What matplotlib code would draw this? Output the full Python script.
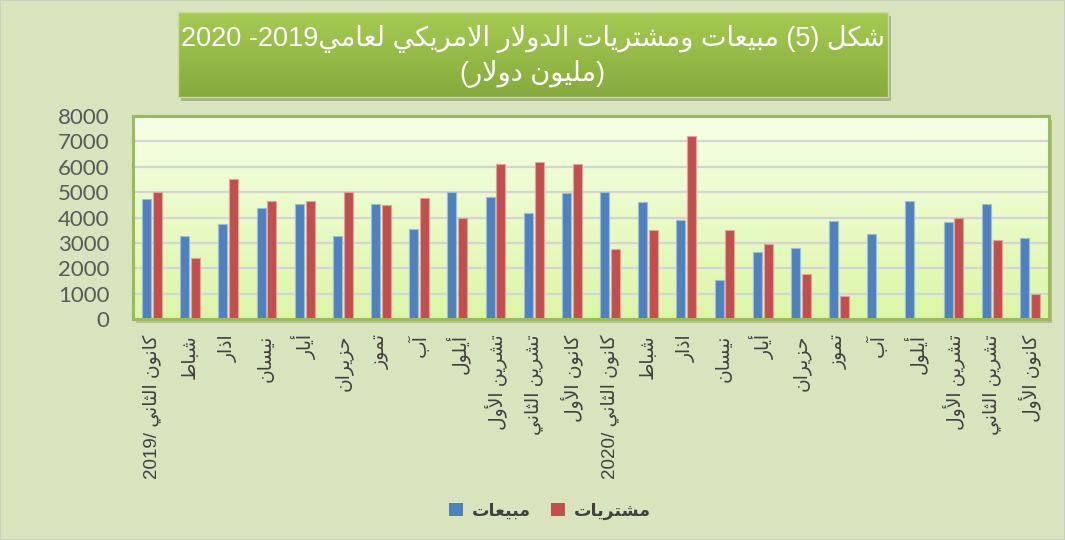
import numpy as np
import matplotlib
matplotlib.use("Agg")
import matplotlib.pyplot as plt
from matplotlib.patches import Rectangle, Patch
from matplotlib.colors import LinearSegmentedColormap

# ---- data (million dollars) ----
months = ["كانون الثاني", "شباط", "اذار", "نيسان", "أيار", "حزيران",
          "تموز", "آب", "أيلول", "تشرين الأول", "تشرين الثاني", "كانون الأول"]
years = ["2019", "2020"]
sales = [4720, 3290, 3730, 4380, 4550, 3290, 4530, 3530, 5010, 4820, 4190, 4970,
         5000, 4620, 3910, 1540, 2650, 2800, 3850, 3350, 4660, 3810, 4550, 3190]
purchases = [5000, 2390, 5500, 4650, 4660, 5000, 4490, 4750, 3990, 6090, 6190, 6090,
             2760, 3490, 7200, 3490, 2940, 1780, 890, 0, 0, 3990, 3100, 1000]
title_words = "شكل (5) مبيعات ومشتريات الدولار الامريكي لعامي"
title_years = "2020 -2019"
title_unit = "(مليون دولار)"
legend_sales = "مبيعات"
legend_purchases = "مشتريات"

# ---- minimal arabic shaping (matplotlib has no bidi / joining) ----
DUAL = {'ب': 0xFE8F, 'ت': 0xFE95, 'ث': 0xFE99, 'ج': 0xFE9D, 'ح': 0xFEA1, 'خ': 0xFEA5,
        'س': 0xFEB1, 'ش': 0xFEB5, 'ص': 0xFEB9, 'ض': 0xFEBD, 'ط': 0xFEC1, 'ظ': 0xFEC5,
        'ع': 0xFEC9, 'غ': 0xFECD, 'ف': 0xFED1, 'ق': 0xFED5, 'ك': 0xFED9, 'ل': 0xFEDD,
        'م': 0xFEE1, 'ن': 0xFEE5, 'ه': 0xFEE9, 'ي': 0xFEF1}
RIGHT = {'آ': 0xFE81, 'أ': 0xFE83, 'إ': 0xFE87, 'ا': 0xFE8D, 'ة': 0xFE93, 'د': 0xFEA9,
         'ذ': 0xFEAB, 'ر': 0xFEAD, 'ز': 0xFEAF, 'و': 0xFEED, 'ى': 0xFEEF}
LAM_ALEF = {'آ': 0xFEF5, 'أ': 0xFEF7, 'إ': 0xFEF9, 'ا': 0xFEFB}


def shape(text):
    toks = []
    i = 0
    while i < len(text):
        c = text[i]
        if c == 'ل' and i + 1 < len(text) and text[i + 1] in LAM_ALEF:
            toks.append(('LA', text[i + 1]))
            i += 2
        else:
            toks.append(('C', c))
            i += 1

    def is_ar(t):
        return t[0] == 'LA' or t[1] in DUAL or t[1] in RIGHT

    def joins_next(t):
        return t[0] == 'C' and t[1] in DUAL

    out = []
    for k, t in enumerate(toks):
        if not is_ar(t):
            out.append(t[1])
            continue
        prev_j = k > 0 and joins_next(toks[k - 1])
        next_j = joins_next(t) and k + 1 < len(toks) and is_ar(toks[k + 1])
        if t[0] == 'LA':
            out.append(chr(LAM_ALEF[t[1]] + (1 if prev_j else 0)))
        elif t[1] in DUAL:
            idx = 3 if (prev_j and next_j) else 1 if prev_j else 2 if next_j else 0
            out.append(chr(DUAL[t[1]] + idx))
        else:
            out.append(chr(RIGHT[t[1]] + (1 if prev_j else 0)))
    return out


def rtl(text):
    mirror = {'(': ')', ')': '('}
    return ''.join(mirror.get(g, g) for g in shape(text)[::-1])


labels = []
for y in years:
    for j, m in enumerate(months):
        lab = rtl(m)
        if j == 0:
            lab = y + "/ " + lab
        labels.append(lab)

FONT = ['Liberation Sans', 'DejaVu Sans']
BG = '#d7e4bd'

fig = plt.figure(figsize=(10.65, 5.4), dpi=100, facecolor=BG)
W, H = 1065, 540

# plot area (pixel box 133..1049 x 116..319)
L, R, T, B = 133, 1049, 116, 319
fig.patches.append(Rectangle(((L + 3) / W, 1 - (B + 4) / H), (R - L) / W, (B - T) / H,
                             transform=fig.transFigure, facecolor='#b3bf98',
                             edgecolor='none', zorder=-5))
ax = fig.add_axes([L / W, 1 - B / H, (R - L) / W, (B - T) / H])
ax.set_facecolor('none')
cmap = LinearSegmentedColormap.from_list('pa', ['#dcf6a6', '#f6ffe8'])
ax.imshow(np.linspace(0, 1, 256).reshape(-1, 1), cmap=cmap, origin='lower',
          extent=[0, 1, 0, 1], transform=ax.transAxes, aspect='auto', zorder=0)

x = np.arange(len(sales))
ax.bar(x - 0.145, sales, width=0.235, color='#4f81bd', edgecolor='#9dbce0',
       linewidth=0.8, zorder=3)
ax.bar(x + 0.14, purchases, width=0.235, color='#c0504d', edgecolor='#e3a19f',
       linewidth=0.8, zorder=3)

ax.set_xlim(-0.5, len(sales) - 0.5)
ax.set_ylim(0, 8000)
ax.set_yticks(range(0, 8001, 1000))
ax.grid(axis='y', color='#d4d4d4', linewidth=1.6, zorder=1)
ax.set_axisbelow(True)
ax.tick_params(axis='y', length=0, pad=17, labelsize=16, labelcolor='#595959')
for t in ax.get_yticklabels():
    t.set_family(['Lato', 'DejaVu Sans'])
ax.set_xticks(x)
ax.set_xticklabels(labels, rotation=90, family=FONT, fontsize=13.5, color='#404040')
ax.tick_params(axis='x', length=0, pad=11)
for s in ax.spines.values():
    s.set_color('#9bbb59')
    s.set_linewidth(2.2)
    s.set_zorder(5)

# title box
tl, tr, tt, tb = 178, 888, 12, 97
fig.patches.append(Rectangle(((tl + 3) / W, 1 - (tb + 4) / H), (tr - tl) / W, (tb - tt) / H,
                             transform=fig.transFigure, facecolor='#a7b38a',
                             edgecolor='none', zorder=-5))
tax = fig.add_axes([tl / W, 1 - tb / H, (tr - tl) / W, (tb - tt) / H])
tcm = LinearSegmentedColormap.from_list('tb', ['#86aa3e', '#a6cb52'])
tax.imshow(np.linspace(0, 1, 256).reshape(-1, 1), cmap=tcm, origin='lower',
           extent=[0, 1, 0, 1], aspect='auto')
tax.set_xticks([])
tax.set_yticks([])
for s in tax.spines.values():
    s.set_color('#c9dba0')
    s.set_linewidth(1)

fig.text(533 / W, 1 - 39 / H, title_years + rtl(title_words), family=FONT,
         fontsize=19.5, color='white', ha='center', va='center', zorder=5)
fig.text(533 / W, 1 - 74 / H, rtl(title_unit), family=FONT,
         fontsize=19.5, color='white', ha='center', va='center', zorder=5)

# legend
handles = [Patch(facecolor='#4f81bd', label=rtl(legend_sales)),
           Patch(facecolor='#c0504d', label=rtl(legend_purchases))]
fig.legend(handles=handles, loc='center', bbox_to_anchor=(550 / W, 1 - 511 / H),
           ncol=2, frameon=False, handlelength=0.8, handleheight=0.8,
           handletextpad=0.5, columnspacing=1.2,
           prop={'family': FONT, 'weight': 'bold', 'size': 12.5},
           labelcolor='#404040')

# thin outer border
fig.patches.append(Rectangle((0, 0), 1, 1, transform=fig.transFigure, fill=False,
                             edgecolor='#c8cfbb', linewidth=1.5))

fig.savefig("out.png", dpi=100, facecolor=BG)
